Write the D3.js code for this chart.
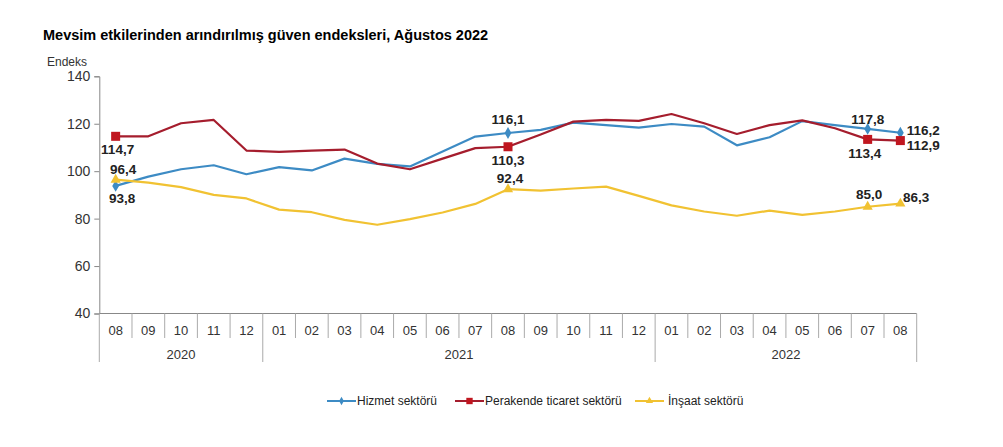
<!DOCTYPE html>
<html><head><meta charset="utf-8">
<script src="https://cdn.jsdelivr.net/npm/d3@7"></script>
<style>
body{margin:0;background:#fff;}
svg text{font-family:"Liberation Sans",Arial,sans-serif;}
</style></head>
<body><svg id="c" width="1003" height="447"></svg>
<script>
const months = ["08","09","10","11","12","01","02","03","04","05","06","07","08","09","10","11","12","01","02","03","04","05","06","07","08"];
const years = [{label:"2020",start:0,end:5},{label:"2021",start:5,end:17},{label:"2022",start:17,end:25}];
const hizmet =    [93.8,97.7,100.8,102.5,98.7,101.7,100.3,105.3,103.1,102.0,108.3,114.6,116.1,117.4,120.5,119.4,118.4,119.9,118.8,110.9,114.3,121.1,119.4,117.8,116.2];
const perakende = [114.7,114.7,120.2,121.6,108.7,108.1,108.7,109.1,103.2,100.8,105.3,109.7,110.3,115.5,120.9,121.6,121.2,124.1,120.2,115.7,119.4,121.4,118.1,113.4,112.9];
const insaat =    [96.4,95.2,93.3,90.0,88.5,83.8,82.7,79.5,77.4,79.8,82.6,86.2,92.4,91.8,92.7,93.5,89.6,85.6,83.0,81.2,83.4,81.6,83.0,85.0,86.3];
const yTicks = [40,60,80,100,120,140];
const seriesNames = ["Hizmet sektörü","Perakende ticaret sektörü","İnşaat sektörü"];
const labeled = [0,12,23,24];

const svg = d3.select("#c");
const x0 = 99.3, x1 = 916.7, yTop = 76.3, yBot = 313.5;
const x = d3.scaleBand().domain(d3.range(months.length)).range([x0,x1]);
const y = d3.scaleLinear().domain([40,140]).range([yBot,yTop]);
const cx = i => x(i) + x.bandwidth()/2;

svg.append("text").attr("x",43).attr("y",40).attr("font-size",14.5).attr("font-weight","bold").attr("fill","#000")
  .text("Mevsim etkilerinden arındırılmış güven endeksleri, Ağustos 2022");
svg.append("text").attr("x",47).attr("y",66).attr("font-size",12).attr("fill","#333").text("Endeks");

// y axis
const ya = svg.append("g").attr("transform",`translate(${x0},0)`)
  .call(d3.axisLeft(y).tickValues(yTicks).tickSize(5).tickPadding(4));
ya.select(".domain").attr("stroke","#888");
ya.selectAll(".tick line").attr("stroke","#888");
ya.selectAll(".tick text").attr("font-size",14).attr("fill","#333").attr("font-family","Liberation Sans, Arial, sans-serif");

// x axis
const g = svg.append("g");
g.append("line").attr("x1",x0).attr("x2",x1).attr("y1",yBot).attr("y2",yBot).attr("stroke","#888");
const yearBounds = new Set(years.map(d=>d.start).concat([months.length]));
for(let i=0;i<=months.length;i++){
  const xp = i<months.length ? x(i) : x1;
  g.append("line").attr("x1",xp).attr("x2",xp).attr("y1",yBot).attr("y2",yearBounds.has(i)?362:338).attr("stroke","#aaa");
}
months.forEach((m,i)=>{
  g.append("text").attr("x",cx(i)).attr("y",334.5).attr("text-anchor","middle").attr("font-size",13).attr("fill","#333").text(m);
});
years.forEach(d=>{
  const xs = x(d.start), xe = d.end<months.length?x(d.end):x1;
  g.append("text").attr("x",(xs+xe)/2).attr("y",358.5).attr("text-anchor","middle").attr("font-size",13).attr("fill","#333").text(d.label);
});

const colors = ["#3d8bc4","#a51d2d","#f1c232"];
const markerColors = ["#3d8bc4","#c0161f","#f1c232"];
const data = [hizmet,perakende,insaat];
const line = d3.line().x((d,i)=>cx(i)).y(d=>y(d));
data.forEach((s,k)=>{
  svg.append("path").datum(s).attr("d",line).attr("fill","none").attr("stroke",colors[k]).attr("stroke-width",2.2).attr("stroke-linejoin","round");
});
function marker(sel,k,px,py,scale){
  scale = scale||1;
  if(k===0){
    sel.append("path").attr("d",d3.symbol(d3.symbolDiamond,40*scale)()).attr("transform",`translate(${px},${py})`).attr("fill",markerColors[0]);
  } else if(k===1){
    const s=9*Math.sqrt(scale);
    sel.append("rect").attr("x",px-s/2).attr("y",py-s/2).attr("width",s).attr("height",s).attr("fill",markerColors[1]);
  } else {
    sel.append("path").attr("d",d3.symbol(d3.symbolTriangle,45*scale)()).attr("transform",`translate(${px},${py})`).attr("fill",markerColors[2]);
  }
}
data.forEach((s,k)=>{ labeled.forEach(i=>marker(svg,k,cx(i),y(s[i]))); });

// value labels
const fmt = v => v.toFixed(1).replace(".",",");
const lab = [
  // [series, index, dx, dy, anchor]
  [1,0,2,18,"middle"],[2,0,7.5,-5.5,"middle"],[0,0,6.5,17,"middle"],
  [0,12,0,-9,"middle"],[1,12,0,18.5,"middle"],[2,12,2,-6.5,"middle"],
  [0,23,0,-5,"middle"],[1,23,-3,18.3,"middle"],[2,23,1.4,-7.5,"middle"],
  [0,24,6.4,2.5,"start"],[1,24,6.4,9.4,"start"],[2,24,2.7,-2,"start"]
];
lab.forEach(([k,i,dx,dy,a])=>{
  svg.append("text").attr("x",cx(i)+dx).attr("y",y(data[k][i])+dy).attr("text-anchor",a)
    .attr("font-size",13.5).attr("font-weight","bold").attr("fill","#222").text(fmt(data[k][i]));
});

// legend
const leg = [[327,357],[455,485],[635,668]];
seriesNames.forEach((n,k)=>{
  const [lx,tx] = leg[k];
  const ly = 401;
  svg.append("line").attr("x1",lx).attr("x2",lx+29).attr("y1",ly).attr("y2",ly).attr("stroke",colors[k]).attr("stroke-width",2);
  marker(svg,k,lx+14.5,ly,0.5);
  svg.append("text").attr("x",tx).attr("y",ly+4).attr("font-size",12).attr("fill","#222").text(n);
});
</script></body></html>
